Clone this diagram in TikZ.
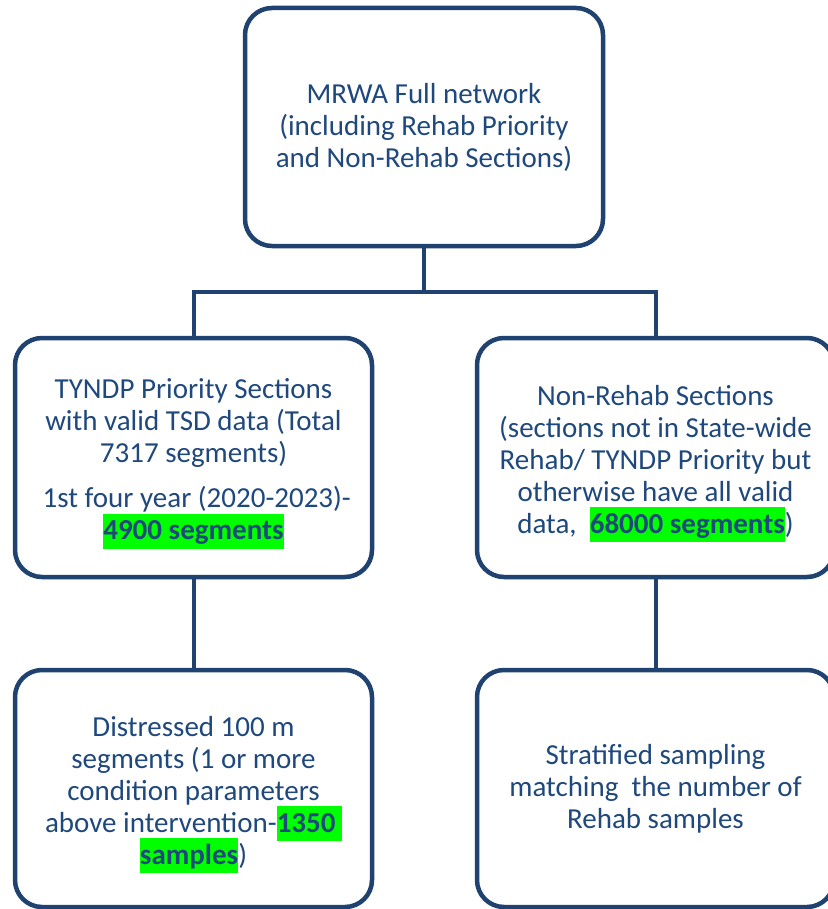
\documentclass[tikz,border=0pt]{standalone}
\usepackage{fontspec}
\setmainfont{Carlito}
\usepackage{xcolor}
\definecolor{txtblue}{HTML}{1F487C}
\definecolor{lineblue}{HTML}{1F4270}
\definecolor{hlgreen}{HTML}{00FF00}
\newcommand{\hlg}[1]{{\setlength{\fboxsep}{0pt}\colorbox{hlgreen}{\rule[-9pt]{0pt}{35pt}\textbf{#1}}}}
\newcommand{\boxfont}{\fontsize{29}{32}\selectfont\setlength{\lineskiplimit}{-60pt}\setlength{\lineskip}{0pt}}
\newcommand{\tstrut}{\rule{0pt}{32pt}}
\begin{document}
\begin{tikzpicture}[x=1pt,y=-1pt,
  boxstyle/.style={draw=lineblue, line width=4.5pt, rounded corners=27pt, fill=white,
    text=txtblue, align=center, inner sep=0pt, font=\boxfont},
  conn/.style={draw=lineblue, line width=4pt, line join=miter}]
\useasboundingbox (0,0) rectangle (827,909);
\node[boxstyle, minimum width=358pt, minimum height=238pt] (top) at (424,127)
  {MRWA Full network\\(including Rehab Priority\\and Non-Rehab Sections)};
\node[boxstyle, minimum width=357pt, minimum height=239pt] (midL) at (193.5,457.5)
  {\tstrut TYNDP Priority Sections\\with valid TSD data (Total\\7317 segments)\\[13pt]
   \ 1st four year (2020-2023)-\\\hlg{4900 segments}};
\node[boxstyle, minimum width=357pt, minimum height=239pt] (midR) at (655.5,457.5)
  {\tstrut Non-Rehab Sections\\(sections not in State-wide\\Rehab/ TYNDP Priority but\\otherwise have all valid\\data,\ \ \hlg{68000 segments})};
\node[boxstyle, minimum width=357pt, minimum height=237pt] (botL) at (193.5,788.5)
  {\tstrut Distressed 100 m\\segments (1 or more\\condition parameters\\above intervention-\hlg{1350\hspace{0.22em}}\\\hlg{samples})};
\node[boxstyle, minimum width=357pt, minimum height=237pt] (botR) at (655.5,788.5)
  {Stratified sampling\\matching\ \ the number of\\Rehab samples};
\coordinate (j) at (424,292);
\draw[conn] (top.south) -- (j);
\draw[conn] (midL.north) -- (midL.north |- j) -- (midR.north |- j) -- (midR.north);
\draw[conn] (midL.south) -- (botL.north);
\draw[conn] (midR.south) -- (botR.north);
\end{tikzpicture}
\end{document}
